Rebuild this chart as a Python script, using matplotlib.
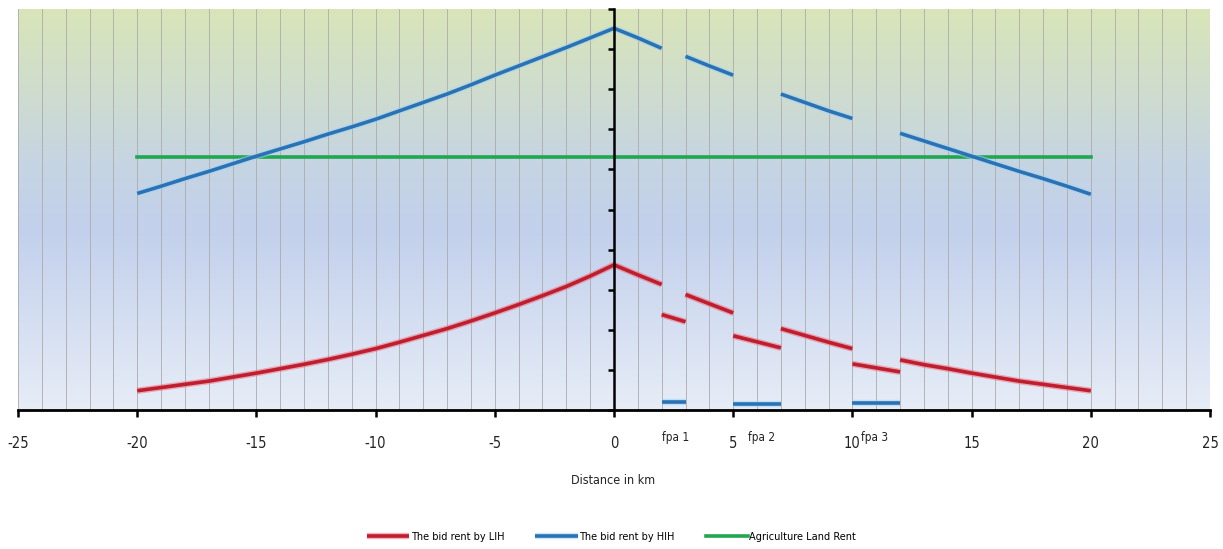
import numpy as np
import matplotlib
matplotlib.use('Agg')
import matplotlib.pyplot as plt
import matplotlib.patheffects as pe
from matplotlib.colors import LinearSegmentedColormap

plt.rcParams['font.family'] = ['DejaVu Sans']
plt.rcParams['font.stretch'] = 'condensed'
plt.rcParams['axes.unicode_minus'] = False

#%% Data
km = np.arange(-20, 21)                                          # Distance from centre, 1 km steps
lih = [0.48, 0.56, 0.64, 0.72, 0.82, 0.92, 1.03, 1.14, 1.26, 1.39, 1.53,
       1.69, 1.86, 2.03, 2.22, 2.42, 2.63, 2.85, 3.08, 3.34, 3.62,
       3.37, 3.13, 2.88, 2.65, 2.42, 2.22, 2.03, 1.86, 1.69, 1.53,
       1.39, 1.25, 1.13, 1.03, 0.92, 0.82, 0.72, 0.64, 0.56, 0.48]
hih = [5.40, 5.58, 5.77, 5.95, 6.14, 6.33, 6.51, 6.69, 6.88, 7.06, 7.25,
       7.46, 7.67, 7.88, 8.11, 8.35, 8.58, 8.81, 9.04, 9.28, 9.52,
       9.28, 9.02, 8.82, 8.58, 8.35, 8.11, 7.88, 7.67, 7.46, 7.27,
       7.06, 6.90, 6.71, 6.52, 6.33, 6.14, 5.95, 5.77, 5.58, 5.38]
agri_x = [-20, 20]
agri = [6.32, 6.32]

# Sections of the main curves outside the fpa zones
sections = [(-20, 2), (3, 5), (7, 10), (12, 20)]

# fpa zones
fpa_names = ['fpa 1', 'fpa 2', 'fpa 3']
fpa_start = [2, 5, 10]
fpa_end = [3, 7, 12]
lih_fpa_start = [2.38, 1.85, 1.15]
lih_fpa_end = [2.20, 1.55, 0.95]
hih_fpa = [0.20, 0.15, 0.17]
fpa_label_x = [2.6, 6.2, 10.95]

c_lih = '#be1e2d'
c_hih = '#2b72b5'
c_agri = '#1fa84f'

#%% Figure
fig = plt.figure(figsize=(12.23, 5.49), dpi=100)
ax = fig.add_axes([18/1223, (549-410)/549, (1210-18)/1223, (410-9)/549])
ax.set_xlim(-25, 25)
ax.set_ylim(0, 10)

# gradient background
cmap = LinearSegmentedColormap.from_list('bg', [(0.0, '#e7edf7'), (0.45, '#c2d0ec'),
                                                (0.62, '#c6d5e2'), (1.0, '#d9e5b8')])
grad = np.linspace(0, 1, 256).reshape(-1, 1)
ax.imshow(grad, extent=[-25, 25, 0, 10], origin='lower', aspect='auto', cmap=cmap, zorder=0)

# grid every km
ax.set_xticks(np.arange(-25, 26, 5))
ax.set_xticks(np.arange(-25, 26, 1), minor=True)
ax.grid(which='both', axis='x', color='#ababab', linewidth=0.6, zorder=1)
ax.set_axisbelow(False)

lw = 2.6
glow_r = [pe.Stroke(linewidth=lw + 2, foreground='#f07080', alpha=0.55), pe.Normal()]
glow_b = [pe.Stroke(linewidth=lw + 2, foreground='#9fd4f5', alpha=0.55), pe.Normal()]

km_arr = np.asarray(km)
lih_arr = np.asarray(lih)
hih_arr = np.asarray(hih)
for k, (a, b) in enumerate(sections):
    m = (km_arr >= a) & (km_arr <= b)
    ax.plot(km_arr[m], lih_arr[m], color=c_lih, lw=lw, solid_capstyle='butt',
            path_effects=glow_r, zorder=4, label='The bid rent by LIH' if k == 0 else None)
    ax.plot(km_arr[m], hih_arr[m], color=c_hih, lw=lw, solid_capstyle='butt',
            path_effects=glow_b, zorder=4, label='The bid rent by HIH' if k == 0 else None)

for i in range(len(fpa_names)):
    ax.plot([fpa_start[i], fpa_end[i]], [lih_fpa_start[i], lih_fpa_end[i]], color=c_lih,
            lw=lw, solid_capstyle='butt', path_effects=glow_r, zorder=4)
    ax.plot([fpa_start[i], fpa_end[i]], [hih_fpa[i], hih_fpa[i]], color=c_hih,
            lw=lw, solid_capstyle='butt', path_effects=glow_b, zorder=4)
    ax.text(fpa_label_x[i], -0.68, fpa_names[i], ha='center', va='center',
            fontsize=8.5, color='#222222', clip_on=False)

ax.plot(agri_x, agri, color=c_agri, lw=lw, zorder=3, label='Agriculture Land Rent')

# axes through the origin
for s in ['top', 'right']:
    ax.spines[s].set_visible(False)
ax.spines['left'].set_position(('data', 0))
ax.spines['left'].set_linewidth(1.8)
ax.spines['bottom'].set_linewidth(2.0)
ax.spines['left'].set_zorder(5)
ax.spines['bottom'].set_zorder(5)
ax.set_yticks(np.arange(0, 11, 1))
ax.set_yticklabels([])
ax.tick_params(axis='y', direction='out', length=4, width=1.8)
ax.tick_params(axis='x', which='major', direction='out', length=5, width=1.8,
               labelsize=10.5, pad=14, labelcolor='#222222')
ax.tick_params(axis='x', which='minor', length=0)

fig.text(613/1223, (549-481)/549, 'Distance in km', ha='center', va='center',
         fontsize=9, color='#222222')

fig.legend(loc='center', bbox_to_anchor=(0.5, (549-537)/549), ncol=3, frameon=False,
           fontsize=7.8, handlelength=3.9, handletextpad=0.1, columnspacing=2.9)

fig.savefig('out.png', dpi=100)
